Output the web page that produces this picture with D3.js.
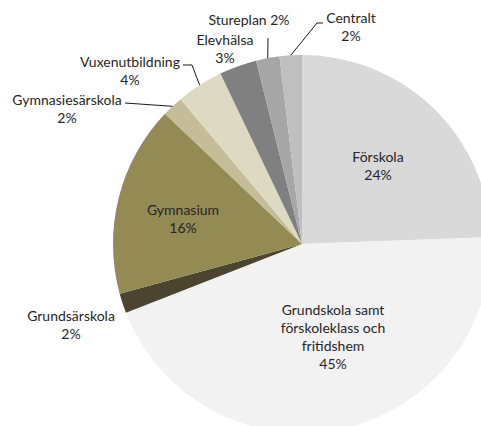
<!DOCTYPE html>
<html>
<head>
<meta charset="utf-8">
<script src="https://cdn.jsdelivr.net/npm/d3@7"></script>
<style>
  html, body { margin: 0; padding: 0; background: #fff; }
  text { font-family: Lato, "Open Sans", sans-serif; font-size: 14px; fill: #262626; }
</style>
</head>
<body>
<div id="chart"></div>
<script>
// data (share of cost, %)
var categories = ["Förskola", "Grundskola samt\nförskoleklass och\nfritidshem", "Grundsärskola", "Gymnasium",
  "Gymnasiesärskola", "Vuxenutbildning", "Elevhälsa", "Stureplan", "Centralt"];
var values = [24.4, 44.6, 1.7, 16.3, 1.8, 4.0, 3.2, 2.0, 1.9];
var colours = ["#d9d9d9", "#f2f2f2", "#4a4430", "#948a54", "#c4bd97", "#ddd9c3", "#808080", "#a6a6a6", "#bfbfbf"];

// label placement: centre x, first baseline y, optional leader start points
var labelLayout = [
  { x: 378, y: 162 },
  { x: 333, y: 315 },
  { x: 71, y: 321 },
  { x: 183, y: 215 },
  { x: 67, y: 105, leader: [[125, 103]] },
  { x: 130, y: 67, leader: [[183, 65], [192, 65]] },
  { x: 225, y: 45 },
  { x: 249, y: 25, inline: true, leader: [[268, 38]] },
  { x: 351, y: 23, leader: [[323, 23], [317, 23]] }
];

var width = 481, height = 426;
var cx = 302, cy = 244, radius = 189;
var lineH = 18;

var svg = d3.select('#chart').append('svg').attr('width', width).attr('height', height);
var g = svg.append('g').attr('transform', 'translate(' + cx + ',' + cy + ')');

var total = d3.sum(values);
var pie = d3.pie().sort(null).value(function(d) { return d; });
var arc = d3.arc().innerRadius(0).outerRadius(radius);
var arcs = pie(values);

g.selectAll('path')
  .data(arcs)
  .enter().append('path')
  .attr('d', arc)
  .attr('fill', function(d, i) { return colours[i]; });

// leader lines
arcs.forEach(function(d, i) {
  var lay = labelLayout[i];
  if (!lay.leader) return;
  var mid = (d.startAngle + d.endAngle) / 2;
  var end = d3.pointRadial(mid, radius);
  var pts = lay.leader.map(function(p) { return [p[0] - cx, p[1] - cy]; });
  pts.push(end);
  g.append('path')
    .attr('d', d3.line()(pts))
    .attr('fill', 'none')
    .attr('stroke', '#000')
    .attr('stroke-width', 0.9);
});

// labels
var labels = svg.append('g');
arcs.forEach(function(d, i) {
  var lay = labelLayout[i];
  var pct = Math.round(d.value / total * 100) + '%';
  var lines = categories[i].split('\n');
  if (lay.inline) lines[lines.length - 1] += ' ' + pct;
  else lines.push(pct);
  var t = labels.append('text').attr('text-anchor', 'middle');
  lines.forEach(function(s, j) {
    t.append('tspan').attr('x', lay.x).attr('y', lay.y + j * lineH).text(s);
  });
});
</script>
</body>
</html>
